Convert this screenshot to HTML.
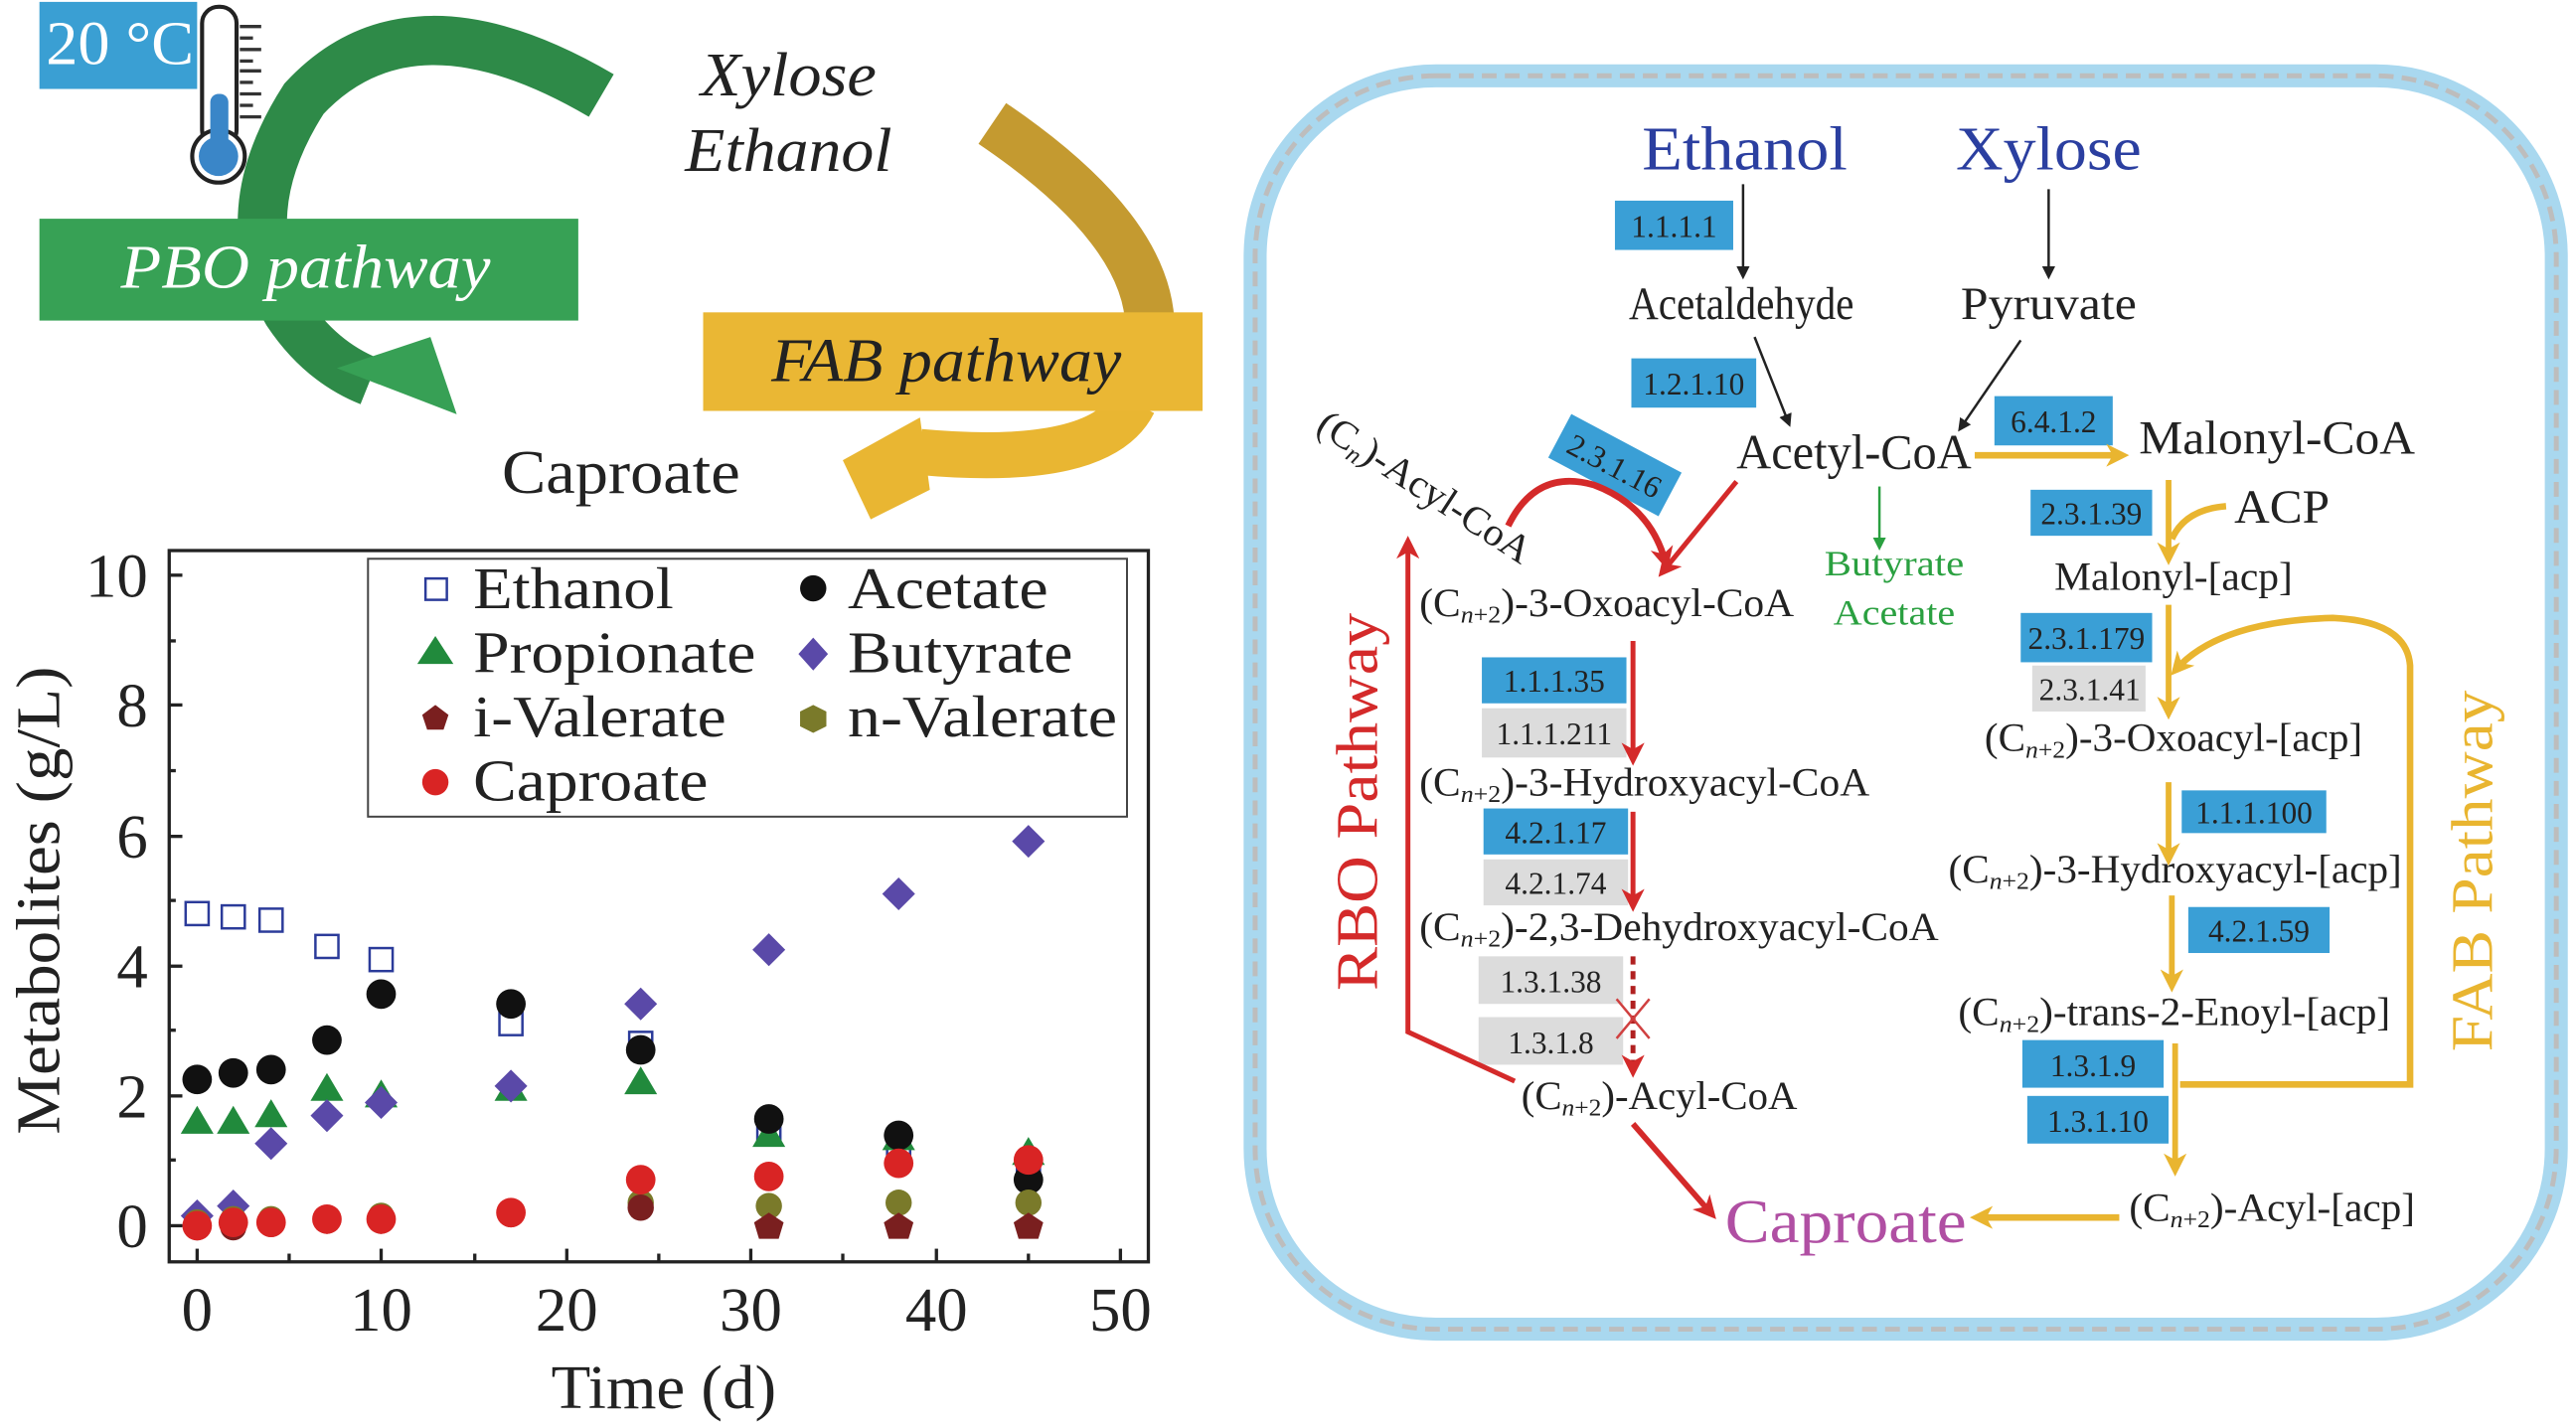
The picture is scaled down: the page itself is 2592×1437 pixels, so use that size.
<!DOCTYPE html>
<html><head><meta charset="utf-8"><style>
html,body{margin:0;padding:0;background:#fff;}
svg{display:block;}
text{font-family:"Liberation Serif",serif;}
</style></head><body>
<svg width="2592" height="1437" viewBox="0 0 1568 869" xmlns="http://www.w3.org/2000/svg">
<defs>
<marker id="ak" markerWidth="8" markerHeight="8" refX="6" refY="4" orient="auto" markerUnits="userSpaceOnUse"><path d="M0,0 L8,4 L0,8 Z" fill="#222"/></marker>
<marker id="ar" markerWidth="14" markerHeight="14" refX="10" refY="7" orient="auto" markerUnits="userSpaceOnUse"><path d="M0,0 L14,7 L0,14 L4,7 Z" fill="#d42a2a"/></marker>
<marker id="ag" markerWidth="14" markerHeight="14" refX="10" refY="7" orient="auto" markerUnits="userSpaceOnUse"><path d="M0,0 L14,7 L0,14 L4,7 Z" fill="#e9b530"/></marker>
<marker id="agr" markerWidth="8" markerHeight="8" refX="6" refY="4" orient="auto" markerUnits="userSpaceOnUse"><path d="M0,0 L8,4 L0,8 Z" fill="#2aa040"/></marker>
</defs>

<!-- top-left schematic -->
<path d="M366,58 Q250,-10 185,60 Q140,130 175,190 Q195,220 225,232" fill="none" stroke="#2e8a48" stroke-width="30"/>
<polygon points="205,224 262,205 278,252" fill="#37a055"/>
<rect x="24" y="133" width="328" height="62" fill="#37a155"/>
<text x="186" y="175" font-size="38" font-style="italic" fill="#fff" text-anchor="middle" textLength="225" lengthAdjust="spacingAndGlyphs">PBO pathway</text>

<rect x="24" y="1" width="96" height="53" fill="#3a9fd3"/>
<text x="28" y="39" font-size="38" fill="#fff" textLength="90" lengthAdjust="spacingAndGlyphs">20 °C</text>
<rect x="123" y="4" width="21" height="85" rx="10" fill="#fff" stroke="#222" stroke-width="2.5"/>
<circle cx="133" cy="95" r="16" fill="#fff" stroke="#222" stroke-width="2.5"/>
<rect x="128" y="57" width="11" height="40" rx="5" fill="#3a86c8"/>
<circle cx="133" cy="95" r="12" fill="#3a86c8"/>
<g stroke="#333" stroke-width="2"><line x1="146" y1="16" x2="159" y2="16"/><line x1="146" y1="23" x2="154" y2="23"/><line x1="146" y1="30" x2="159" y2="30"/><line x1="146" y1="37" x2="154" y2="37"/><line x1="146" y1="43" x2="159" y2="43"/><line x1="146" y1="50" x2="154" y2="50"/><line x1="146" y1="57" x2="159" y2="57"/><line x1="146" y1="64" x2="154" y2="64"/><line x1="146" y1="71" x2="159" y2="71"/></g>

<text x="480" y="58" font-size="38" font-style="italic" fill="#222" text-anchor="middle" textLength="107" lengthAdjust="spacingAndGlyphs">Xylose</text>
<text x="480" y="104" font-size="38" font-style="italic" fill="#222" text-anchor="middle" textLength="126" lengthAdjust="spacingAndGlyphs">Ethanol</text>

<path d="M604,75 Q700,140 700,200" fill="none" stroke="#c49a30" stroke-width="30"/>
<path d="M690,245 Q670,285 560,275" fill="none" stroke="#e9b632" stroke-width="28"/>
<polygon points="560,254 566,298 530,316 513,280" fill="#e9b632"/>
<rect x="428" y="190" width="304" height="60" fill="#eab734"/>
<text x="576" y="232" font-size="38" font-style="italic" fill="#222" text-anchor="middle" textLength="213" lengthAdjust="spacingAndGlyphs">FAB pathway</text>
<text x="378" y="300" font-size="38" fill="#222" text-anchor="middle" textLength="145" lengthAdjust="spacingAndGlyphs">Caproate</text>

<!-- chart -->
<rect x="103" y="335" width="596" height="433" fill="none" stroke="#222" stroke-width="2"/>
<g stroke="#222" stroke-width="2">
<line x1="103" y1="746" x2="111" y2="746"/><line x1="103" y1="667" x2="111" y2="667"/><line x1="103" y1="588" x2="111" y2="588"/><line x1="103" y1="509" x2="111" y2="509"/><line x1="103" y1="429" x2="111" y2="429"/><line x1="103" y1="350" x2="111" y2="350"/>
<line x1="103" y1="706" x2="107" y2="706"/><line x1="103" y1="627" x2="107" y2="627"/><line x1="103" y1="548" x2="107" y2="548"/><line x1="103" y1="469" x2="107" y2="469"/><line x1="103" y1="390" x2="107" y2="390"/>
<line x1="120" y1="768" x2="120" y2="760"/><line x1="232" y1="768" x2="232" y2="760"/><line x1="345" y1="768" x2="345" y2="760"/><line x1="457" y1="768" x2="457" y2="760"/><line x1="570" y1="768" x2="570" y2="760"/><line x1="682" y1="768" x2="682" y2="760"/>
<line x1="176" y1="768" x2="176" y2="763"/><line x1="289" y1="768" x2="289" y2="763"/><line x1="401" y1="768" x2="401" y2="763"/><line x1="513" y1="768" x2="513" y2="763"/><line x1="626" y1="768" x2="626" y2="763"/>
</g>
<g font-size="38" fill="#222" text-anchor="end">
<text x="90" y="759">0</text><text x="90" y="680">2</text><text x="90" y="601">4</text><text x="90" y="522">6</text><text x="90" y="442">8</text><text x="90" y="363">10</text>
</g>
<g font-size="38" fill="#222" text-anchor="middle">
<text x="120" y="810">0</text><text x="232" y="810">10</text><text x="345" y="810">20</text><text x="457" y="810">30</text><text x="570" y="810">40</text><text x="682" y="810">50</text>
</g>
<text x="404" y="857" font-size="38" fill="#222" text-anchor="middle" textLength="137" lengthAdjust="spacingAndGlyphs">Time (d)</text>
<text transform="translate(36,548) rotate(-90)" font-size="38" fill="#222" text-anchor="middle" textLength="285" lengthAdjust="spacingAndGlyphs">Metabolites (g/L)</text>

<rect x="224" y="340" width="462" height="157" fill="#fff" stroke="#444" stroke-width="1.2"/>
<g font-size="36" fill="#222">
<text x="288" y="370" textLength="122" lengthAdjust="spacingAndGlyphs">Ethanol</text>
<text x="516" y="370" textLength="122" lengthAdjust="spacingAndGlyphs">Acetate</text>
<text x="288" y="409" textLength="172" lengthAdjust="spacingAndGlyphs">Propionate</text>
<text x="516" y="409" textLength="137" lengthAdjust="spacingAndGlyphs">Butyrate</text>
<text x="288" y="448" textLength="154" lengthAdjust="spacingAndGlyphs">i-Valerate</text>
<text x="516" y="448" textLength="164" lengthAdjust="spacingAndGlyphs">n-Valerate</text>
<text x="288" y="487" textLength="143" lengthAdjust="spacingAndGlyphs">Caproate</text>
</g>
<rect x="259" y="352" width="13" height="13" fill="none" stroke="#2b3b9a" stroke-width="1.5"/>
<circle cx="495" cy="358" r="8" fill="#111"/>
<polygon points="265,387 276,404 254,404" fill="#218a3c"/>
<polygon points="495,388 504,398 495,408 486,398" fill="#5a49a8"/>
<polygon points="265,429 273,435 270,444 260,444 257,435" fill="#7a1f1f"/>
<polygon points="495,429 503,433 503,442 495,446 487,442 487,433" fill="#7a7a2a"/>
<circle cx="265" cy="476" r="8" fill="#d92424"/>

<g id="pts">
<!-- Ethanol -->
<g fill="none" stroke="#2b3b9a" stroke-width="1.5">
<rect x="113" y="549" width="14" height="14"/><rect x="135" y="551" width="14" height="14"/><rect x="158" y="553" width="14" height="14"/><rect x="192" y="569" width="14" height="14"/><rect x="225" y="577" width="14" height="14"/><rect x="304" y="616" width="14" height="14"/><rect x="383" y="628" width="14" height="14"/><rect x="461" y="680" width="14" height="14"/><rect x="540" y="691" width="14" height="14"/><rect x="619" y="707" width="14" height="14"/>
</g>
<!-- Propionate -->
<g fill="#218a3c">
<polygon points="120,673 130,690 110,690"/><polygon points="142,673 152,690 132,690"/><polygon points="165,669 175,686 155,686"/><polygon points="199,653 209,670 189,670"/><polygon points="232,657 242,674 222,674"/><polygon points="311,653 321,670 301,670"/><polygon points="390,649 400,666 380,666"/><polygon points="468,681 478,698 458,698"/><polygon points="547,683 557,700 537,700"/><polygon points="626,692 636,709 616,709"/>
</g>
<!-- Acetate -->
<g fill="#111">
<circle cx="120" cy="657" r="9"/><circle cx="142" cy="653" r="9"/><circle cx="165" cy="651" r="9"/><circle cx="199" cy="633" r="9"/><circle cx="232" cy="605" r="9"/><circle cx="311" cy="611" r="9"/><circle cx="390" cy="639" r="9"/><circle cx="468" cy="681" r="9"/><circle cx="547" cy="691" r="9"/><circle cx="626" cy="718" r="9"/>
</g>
<!-- Butyrate -->
<g fill="#5a49a8">
<polygon points="120,730 130,740 120,750 110,740"/><polygon points="142,724 152,734 142,744 132,734"/><polygon points="165,686 175,696 165,706 155,696"/><polygon points="199,669 209,679 199,689 189,679"/><polygon points="232,661 242,671 232,681 222,671"/><polygon points="311,651 321,661 311,671 301,661"/><polygon points="390,601 400,611 390,621 380,611"/><polygon points="468,568 478,578 468,588 458,578"/><polygon points="547,534 557,544 547,554 537,544"/><polygon points="626,502 636,512 626,522 616,512"/>
</g>
<!-- n-Valerate -->
<g fill="#7a7a2a">
<circle cx="120" cy="744" r="8"/><circle cx="142" cy="742" r="8"/><circle cx="165" cy="742" r="8"/><circle cx="199" cy="742" r="8"/><circle cx="232" cy="740" r="8"/><circle cx="311" cy="738" r="8"/><circle cx="390" cy="732" r="8"/><circle cx="468" cy="734" r="8"/><circle cx="547" cy="732" r="8"/><circle cx="626" cy="732" r="8"/>
</g>
<!-- i-Valerate -->
<g fill="#7a1f1f">
<circle cx="120" cy="747" r="8"/><circle cx="142" cy="747" r="8"/><circle cx="165" cy="745" r="8"/><circle cx="199" cy="743" r="8"/><circle cx="232" cy="743" r="8"/><circle cx="311" cy="739" r="8"/><circle cx="390" cy="735" r="8"/><polygon points="468,738 477,744 474,754 462,754 459,744"/><polygon points="547,738 556,744 553,754 541,754 538,744"/><polygon points="626,738 635,744 632,754 620,754 617,744"/>
</g>
<!-- Caproate -->
<g fill="#d92424">
<circle cx="120" cy="746" r="9"/><circle cx="142" cy="744" r="9"/><circle cx="165" cy="744" r="9"/><circle cx="199" cy="742" r="9"/><circle cx="232" cy="742" r="9"/><circle cx="311" cy="738" r="9"/><circle cx="390" cy="718" r="9"/><circle cx="468" cy="716" r="9"/><circle cx="547" cy="708" r="9"/><circle cx="626" cy="706" r="9"/>
</g>
</g>

<!-- right panel -->
<rect x="764" y="46" width="792" height="763" rx="110" fill="none" stroke="#a9d8ef" stroke-width="14"/>
<rect x="764" y="46" width="792" height="763" rx="110" fill="none" stroke="#bdbdbd" stroke-width="3" stroke-dasharray="9,5"/>

<text x="1062" y="103" font-size="38" fill="#2b3fa0" text-anchor="middle" textLength="125" lengthAdjust="spacingAndGlyphs">Ethanol</text>
<text x="1247" y="103" font-size="38" fill="#2b3fa0" text-anchor="middle" textLength="113" lengthAdjust="spacingAndGlyphs">Xylose</text>

<g fill="#3a9fd6">
<rect x="983" y="122" width="72" height="30"/><rect x="993" y="218" width="76" height="30"/><rect x="1214" y="241" width="72" height="30"/><rect x="1236" y="298" width="74" height="28"/><rect x="1230" y="373" width="80" height="30"/><rect x="1328" y="481" width="88" height="26"/><rect x="1332" y="552" width="86" height="28"/><rect x="1231" y="633" width="86" height="29"/><rect x="1234" y="667" width="86" height="29"/><rect x="902" y="400" width="88" height="28"/><rect x="903" y="492" width="88" height="28"/>
</g>
<g fill="#dcdcdc">
<rect x="1237" y="405" width="69" height="28"/><rect x="902" y="431" width="88" height="30"/><rect x="903" y="523" width="88" height="28"/><rect x="900" y="582" width="88" height="29"/><rect x="900" y="619" width="88" height="29"/>
</g>
<g font-size="19" fill="#222" text-anchor="middle">
<text x="1019" y="144">1.1.1.1</text><text x="1031" y="240">1.2.1.10</text><text x="1250" y="263">6.4.1.2</text><text x="1273" y="319">2.3.1.39</text><text x="1270" y="395">2.3.1.179</text><text x="1272" y="426">2.3.1.41</text><text x="1372" y="501">1.1.1.100</text><text x="1375" y="573">4.2.1.59</text><text x="1274" y="655">1.3.1.9</text><text x="1277" y="689">1.3.1.10</text><text x="946" y="421">1.1.1.35</text><text x="946" y="453">1.1.1.211</text><text x="947" y="513">4.2.1.17</text><text x="947" y="544">4.2.1.74</text><text x="944" y="604">1.3.1.38</text><text x="944" y="641">1.3.1.8</text>
</g>
<g transform="translate(983,283) rotate(28)">
<rect x="-38" y="-15" width="76" height="30" fill="#3a9fd6"/>
<text x="0" y="7" font-size="19" fill="#222" text-anchor="middle">2.3.1.16</text>
</g>

<line x1="1061" y1="112" x2="1061" y2="168" stroke="#222" stroke-width="1.5" marker-end="url(#ak)"/>
<line x1="1247" y1="115" x2="1247" y2="168" stroke="#222" stroke-width="1.5" marker-end="url(#ak)"/>
<text x="1060" y="194" font-size="28" fill="#222" text-anchor="middle" textLength="137" lengthAdjust="spacingAndGlyphs">Acetaldehyde</text>
<text x="1247" y="194" font-size="28" fill="#222" text-anchor="middle" textLength="107" lengthAdjust="spacingAndGlyphs">Pyruvate</text>
<line x1="1068" y1="205" x2="1089" y2="258" stroke="#222" stroke-width="1.5" marker-end="url(#ak)"/>
<line x1="1230" y1="207" x2="1193" y2="261" stroke="#222" stroke-width="1.5" marker-end="url(#ak)"/>
<text x="1057" y="285" font-size="30" fill="#222" textLength="143" lengthAdjust="spacingAndGlyphs">Acetyl-CoA</text>
<line x1="1202" y1="277" x2="1292" y2="277" stroke="#e9b530" stroke-width="4" marker-end="url(#ag)"/>
<text x="1302" y="276" font-size="29" fill="#222" textLength="168" lengthAdjust="spacingAndGlyphs">Malonyl-CoA</text>
<text x="1360" y="318" font-size="29" fill="#222" textLength="58" lengthAdjust="spacingAndGlyphs">ACP</text>
<line x1="1320" y1="292" x2="1320" y2="340" stroke="#e9b530" stroke-width="3.5" marker-end="url(#ag)"/>
<path d="M1355,308 Q1330,310 1322,328" fill="none" stroke="#e9b530" stroke-width="4"/>
<text x="1323" y="359" font-size="24" fill="#222" text-anchor="middle" textLength="145" lengthAdjust="spacingAndGlyphs">Malonyl-[acp]</text>
<line x1="1320" y1="368" x2="1320" y2="434" stroke="#e9b530" stroke-width="3.5" marker-end="url(#ag)"/>
<path d="M1327,660 L1467,660 L1467,405 Q1465,378 1420,376 Q1350,378 1324,408" fill="none" stroke="#e9b530" stroke-width="4" marker-end="url(#ag)"/>
<text x="1208" y="457" font-size="24" fill="#222" textLength="230" lengthAdjust="spacingAndGlyphs">(C<tspan font-size="15" font-style="italic" dy="4">n</tspan><tspan font-size="15" dy="0">+2</tspan><tspan dy="-4">)-3-Oxoacyl-[acp]</tspan></text>
<line x1="1320" y1="476" x2="1320" y2="523" stroke="#e9b530" stroke-width="3.5" marker-end="url(#ag)"/>
<text x="1186" y="537" font-size="24" fill="#222" textLength="276" lengthAdjust="spacingAndGlyphs">(C<tspan font-size="15" font-style="italic" dy="4">n</tspan><tspan font-size="15">+2</tspan><tspan dy="-4">)-3-Hydroxyacyl-[acp]</tspan></text>
<line x1="1322" y1="545" x2="1322" y2="600" stroke="#e9b530" stroke-width="3.5" marker-end="url(#ag)"/>
<text x="1192" y="624" font-size="24" fill="#222" textLength="263" lengthAdjust="spacingAndGlyphs">(C<tspan font-size="15" font-style="italic" dy="4">n</tspan><tspan font-size="15">+2</tspan><tspan dy="-4">)-trans-2-Enoyl-[acp]</tspan></text>
<line x1="1324" y1="635" x2="1324" y2="712" stroke="#e9b530" stroke-width="3.5" marker-end="url(#ag)"/>
<text x="1296" y="743" font-size="24" fill="#222" textLength="174" lengthAdjust="spacingAndGlyphs">(C<tspan font-size="15" font-style="italic" dy="4">n</tspan><tspan font-size="15">+2</tspan><tspan dy="-4">)-Acyl-[acp]</tspan></text>
<line x1="1290" y1="741" x2="1203" y2="741" stroke="#e9b530" stroke-width="4" marker-end="url(#ag)"/>
<text x="1050" y="756" font-size="38" fill="#b04fa3" textLength="147" lengthAdjust="spacingAndGlyphs">Caproate</text>

<text transform="translate(800,262) rotate(33)" font-size="24" fill="#222" textLength="150" lengthAdjust="spacingAndGlyphs">(C<tspan font-size="15" font-style="italic" dy="4">n</tspan><tspan dy="-4">)-Acyl-CoA</tspan></text>
<path d="M918,320 Q935,285 970,295 Q1005,308 1014,343" fill="none" stroke="#d42a2a" stroke-width="4" marker-end="url(#ar)"/>
<line x1="1057" y1="293" x2="1012" y2="348" stroke="#d42a2a" stroke-width="3" marker-end="url(#ar)"/>
<line x1="1144" y1="296" x2="1144" y2="333" stroke="#2aa040" stroke-width="1.5" marker-end="url(#agr)"/>
<text x="1153" y="350" font-size="22" fill="#2aa040" text-anchor="middle" textLength="85" lengthAdjust="spacingAndGlyphs">Butyrate</text>
<text x="1153" y="380" font-size="22" fill="#2aa040" text-anchor="middle" textLength="74" lengthAdjust="spacingAndGlyphs">Acetate</text>

<text x="864" y="375" font-size="24" fill="#222" textLength="228" lengthAdjust="spacingAndGlyphs">(C<tspan font-size="15" font-style="italic" dy="4">n</tspan><tspan font-size="15">+2</tspan><tspan dy="-4">)-3-Oxoacyl-CoA</tspan></text>
<line x1="994" y1="390" x2="994" y2="462" stroke="#d42a2a" stroke-width="3" marker-end="url(#ar)"/>
<text x="864" y="484" font-size="24" fill="#222" textLength="274" lengthAdjust="spacingAndGlyphs">(C<tspan font-size="15" font-style="italic" dy="4">n</tspan><tspan font-size="15">+2</tspan><tspan dy="-4">)-3-Hydroxyacyl-CoA</tspan></text>
<line x1="994" y1="494" x2="994" y2="551" stroke="#d42a2a" stroke-width="3" marker-end="url(#ar)"/>
<text x="864" y="572" font-size="24" fill="#222" textLength="316" lengthAdjust="spacingAndGlyphs">(C<tspan font-size="15" font-style="italic" dy="4">n</tspan><tspan font-size="15">+2</tspan><tspan dy="-4">)-2,3-Dehydroxyacyl-CoA</tspan></text>
<line x1="994" y1="582" x2="994" y2="652" stroke="#b02020" stroke-width="3" stroke-dasharray="5,4" marker-end="url(#ar)"/>
<path d="M984,608 L1004,632 M1004,608 L984,632" stroke="#d04040" stroke-width="1.5"/>
<text x="926" y="675" font-size="24" fill="#222" textLength="168" lengthAdjust="spacingAndGlyphs">(C<tspan font-size="15" font-style="italic" dy="4">n</tspan><tspan font-size="15">+2</tspan><tspan dy="-4">)-Acyl-CoA</tspan></text>
<path d="M922,658 L857,628 L857,330" fill="none" stroke="#d42a2a" stroke-width="3" marker-end="url(#ar)"/>
<line x1="994" y1="684" x2="1042" y2="739" stroke="#d42a2a" stroke-width="3.5" marker-end="url(#ar)"/>
<text transform="translate(838,488) rotate(-90)" font-size="36" fill="#d42a2a" text-anchor="middle" textLength="230" lengthAdjust="spacingAndGlyphs">RBO Pathway</text>
<text transform="translate(1517,530) rotate(-90)" font-size="36" fill="#e9b530" text-anchor="middle" textLength="220" lengthAdjust="spacingAndGlyphs">FAB Pathway</text>
</svg>
</body></html>
